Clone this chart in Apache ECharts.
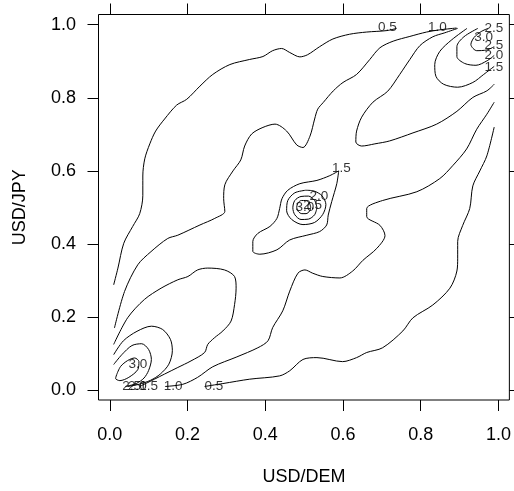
<!DOCTYPE html>
<html><head><meta charset="utf-8">
<script src="https://cdn.jsdelivr.net/npm/echarts@6/dist/echarts.min.js"></script>
<style>html,body{margin:0;padding:0;background:#fff}#c{width:514px;height:491px}</style>
</head><body><div id="c"></div>
<script>
// tick values (both axes)
const tickValues = [0, 0.2, 0.4, 0.6, 0.8, 1.0];

// contour lines, [USD/DEM, USD/JPY]
const c05Upper = [[0.010,0.288],[0.021,0.334],[0.036,0.402],[0.059,0.448],[0.077,0.483],[0.085,0.532],[0.085,0.586],[0.090,0.633],[0.103,0.674],[0.118,0.709],[0.141,0.742],[0.172,0.780],[0.198,0.796],[0.232,0.832],[0.265,0.864],[0.309,0.891],[0.360,0.905],[0.394,0.913],[0.419,0.929],[0.442,0.935],[0.463,0.924],[0.489,0.912],[0.509,0.918],[0.540,0.940],[0.574,0.961],[0.617,0.974],[0.661,0.980],[0.713,0.984],[0.738,0.990]];
const c10Upper = [[0.012,0.170],[0.038,0.270],[0.072,0.343],[0.106,0.379],[0.149,0.415],[0.175,0.424],[0.232,0.452],[0.270,0.470],[0.296,0.489],[0.293,0.524],[0.296,0.562],[0.317,0.600],[0.337,0.630],[0.347,0.668],[0.365,0.701],[0.394,0.719],[0.425,0.728],[0.455,0.709],[0.481,0.671],[0.497,0.664],[0.515,0.695],[0.527,0.742],[0.535,0.769],[0.549,0.787],[0.575,0.819],[0.600,0.842],[0.635,0.864],[0.669,0.905],[0.695,0.937],[0.729,0.955],[0.772,0.968],[0.815,0.980],[0.849,0.986],[0.892,0.991]];
const c05Lower = [[0.244,0.010],[0.291,0.018],[0.360,0.030],[0.437,0.039],[0.463,0.053],[0.497,0.084],[0.533,0.089],[0.599,0.078],[0.635,0.089],[0.661,0.103],[0.702,0.116],[0.754,0.162],[0.780,0.198],[0.831,0.233],[0.875,0.279],[0.893,0.326],[0.895,0.361],[0.895,0.407],[0.908,0.451],[0.926,0.497],[0.934,0.559],[0.952,0.600],[0.970,0.641],[0.989,0.720]];
const c10Lower = [[0.142,0.010],[0.188,0.016],[0.226,0.035],[0.265,0.064],[0.327,0.091],[0.381,0.116],[0.407,0.135],[0.419,0.171],[0.445,0.217],[0.463,0.271],[0.484,0.320],[0.502,0.329],[0.522,0.320],[0.548,0.311],[0.592,0.307],[0.625,0.326],[0.651,0.355],[0.687,0.388],[0.708,0.423],[0.695,0.451],[0.661,0.475],[0.661,0.497],[0.702,0.519],[0.790,0.543],[0.849,0.579],[0.882,0.614],[0.918,0.660],[0.944,0.714],[0.970,0.755],[0.989,0.788]];
const c15LowerLeft = [[0.010,0.125],[0.046,0.198],[0.089,0.248],[0.132,0.279],[0.175,0.302],[0.201,0.311],[0.226,0.329],[0.252,0.334],[0.295,0.329],[0.321,0.311],[0.325,0.279],[0.321,0.234],[0.312,0.189],[0.291,0.162],[0.269,0.143],[0.252,0.125],[0.244,0.103],[0.209,0.080],[0.175,0.062],[0.141,0.044],[0.115,0.030],[0.098,0.021],[0.077,0.010]];
const c20LowerLeft = [[0.010,0.097],[0.035,0.135],[0.070,0.161],[0.107,0.175],[0.136,0.166],[0.156,0.139],[0.161,0.108],[0.152,0.071],[0.130,0.044],[0.105,0.027],[0.075,0.016],[0.046,0.010]];
const c25LowerLeft = [[0.010,0.070],[0.031,0.097],[0.057,0.122],[0.082,0.127],[0.100,0.111],[0.107,0.084],[0.100,0.054],[0.088,0.033],[0.068,0.018],[0.040,0.010]];
const c30LowerLeft = [[0.018,0.043],[0.028,0.065],[0.046,0.081],[0.064,0.088],[0.075,0.078],[0.072,0.056],[0.049,0.035],[0.026,0.026],[0.015,0.032],[0.018,0.043]];
const c15Center = [[0.589,0.600],[0.566,0.587],[0.533,0.574],[0.489,0.565],[0.458,0.547],[0.443,0.524],[0.437,0.497],[0.430,0.470],[0.412,0.448],[0.381,0.429],[0.368,0.407],[0.368,0.380],[0.386,0.372],[0.430,0.384],[0.463,0.411],[0.507,0.424],[0.540,0.434],[0.558,0.452],[0.562,0.479],[0.571,0.516],[0.584,0.565],[0.589,0.600]];
const c20Center = [[0.504,0.547],[0.476,0.540],[0.458,0.519],[0.455,0.491],[0.468,0.467],[0.497,0.453],[0.527,0.459],[0.548,0.481],[0.556,0.508],[0.546,0.532],[0.525,0.545],[0.504,0.547]];
const c25Center = [[0.533,0.499],[0.527,0.519],[0.511,0.531],[0.492,0.530],[0.476,0.519],[0.471,0.499],[0.476,0.480],[0.492,0.467],[0.511,0.468],[0.527,0.480],[0.533,0.499]];
const c30Center = [[0.517,0.501],[0.513,0.513],[0.504,0.519],[0.493,0.519],[0.484,0.512],[0.481,0.500],[0.485,0.489],[0.494,0.483],[0.505,0.483],[0.514,0.490],[0.517,0.501]];
const c15TopRight = [[0.895,0.990],[0.862,0.978],[0.831,0.967],[0.798,0.943],[0.772,0.905],[0.746,0.864],[0.715,0.818],[0.677,0.788],[0.648,0.747],[0.635,0.709],[0.633,0.679],[0.648,0.668],[0.682,0.674],[0.720,0.682],[0.780,0.704],[0.841,0.728],[0.893,0.763],[0.934,0.801],[0.970,0.819],[0.989,0.837]];
const c20TopRight = [[0.919,0.990],[0.880,0.959],[0.849,0.927],[0.836,0.891],[0.839,0.859],[0.859,0.837],[0.895,0.829],[0.934,0.842],[0.962,0.864],[0.989,0.886]];
const c25TopRight = [[0.947,0.990],[0.911,0.967],[0.893,0.940],[0.893,0.913],[0.913,0.894],[0.942,0.889],[0.970,0.901],[0.989,0.916]];
const c30TopRight = [[0.973,0.990],[0.955,0.981],[0.937,0.965],[0.929,0.946],[0.944,0.929],[0.970,0.931],[0.989,0.940]];

// contour labels
const labelText = ['0.5','1.0','2.5','3.0','2.5','2.0','1.5','1.5','2.0','2.5','3.0','3.0','2.5','2.0','1.5','1.0','0.5'];
const labelX = [0.714,0.843,0.988,0.962,0.988,0.988,0.988,0.596,0.538,0.522,0.502,0.072,0.056,0.071,0.100,0.163,0.268];
const labelY = [0.992,0.992,0.989,0.967,0.944,0.916,0.883,0.606,0.530,0.505,0.500,0.070,0.011,0.011,0.011,0.011,0.011];

const FONT = '"Liberation Sans", Arial, Helvetica, sans-serif';
const contours = [c05Upper,c10Upper,c05Lower,c10Lower,c15LowerLeft,c20LowerLeft,c25LowerLeft,c30LowerLeft,
  c15Center,c20Center,c25Center,c30Center,c15TopRight,c20TopRight,c25TopRight,c30TopRight];

const series = contours.map(d => ({
  type: 'line', data: d, symbol: 'none', showSymbol: false, smooth: 0.3,
  lineStyle: { color: '#000', width: 1 }, silent: true, animation: false, z: 2
}));
series.push({
  type: 'scatter', data: labelX.map((x, i) => [x, labelY[i], labelText[i]]),
  symbolSize: 1, itemStyle: { color: 'rgba(0,0,0,0)' }, silent: true, animation: false, z: 3,
  label: { show: true, position: 'inside', formatter: p => p.data[2], color: '#000', fontSize: 13.5, fontFamily: FONT }
});

const mkTick = () => ({ show: true, inside: false, length: 11, customValues: tickValues, lineStyle: { color: '#000', width: 1 } });
const noLine = () => ({ show: false, onZero: false });
const xr = { min: -0.029, max: 1.028 }, yr = { min: -0.027, max: 1.028 };

const chart = echarts.init(document.getElementById('c'), null, { renderer: 'canvas' });
chart.setOption({
  animation: false,
  backgroundColor: '#fff',
  grid: { left: 98.5, top: 14.5, right: 4.5, bottom: 88.3, show: true, borderColor: '#000', borderWidth: 1, backgroundColor: 'rgba(0,0,0,0)' },
  xAxis: [
    Object.assign({ type: 'value', position: 'bottom', axisLine: noLine(), splitLine: { show: false }, axisTick: mkTick(),
      axisLabel: { customValues: tickValues, formatter: v => v.toFixed(1), margin: 26, fontSize: 18, color: '#000', fontFamily: FONT },
      name: 'USD/DEM', nameLocation: 'middle', nameGap: 68, nameTextStyle: { fontSize: 18, color: '#000', fontFamily: FONT } }, xr),
    Object.assign({ type: 'value', position: 'top', axisLine: noLine(), splitLine: { show: false }, axisTick: mkTick(), axisLabel: { show: false } }, xr)
  ],
  yAxis: [
    Object.assign({ type: 'value', position: 'left', axisLine: noLine(), splitLine: { show: false }, axisTick: mkTick(),
      axisLabel: { customValues: tickValues, formatter: v => v.toFixed(1), margin: 22.5, fontSize: 18, color: '#000', fontFamily: FONT },
      name: 'USD/JPY', nameLocation: 'middle', nameGap: 69, nameRotate: 90, nameTextStyle: { fontSize: 18, color: '#000', fontFamily: FONT } }, yr),
    Object.assign({ type: 'value', position: 'right', axisLine: noLine(), splitLine: { show: false }, axisTick: mkTick(), axisLabel: { show: false } }, yr)
  ],
  series: series
});
</script></body></html>
